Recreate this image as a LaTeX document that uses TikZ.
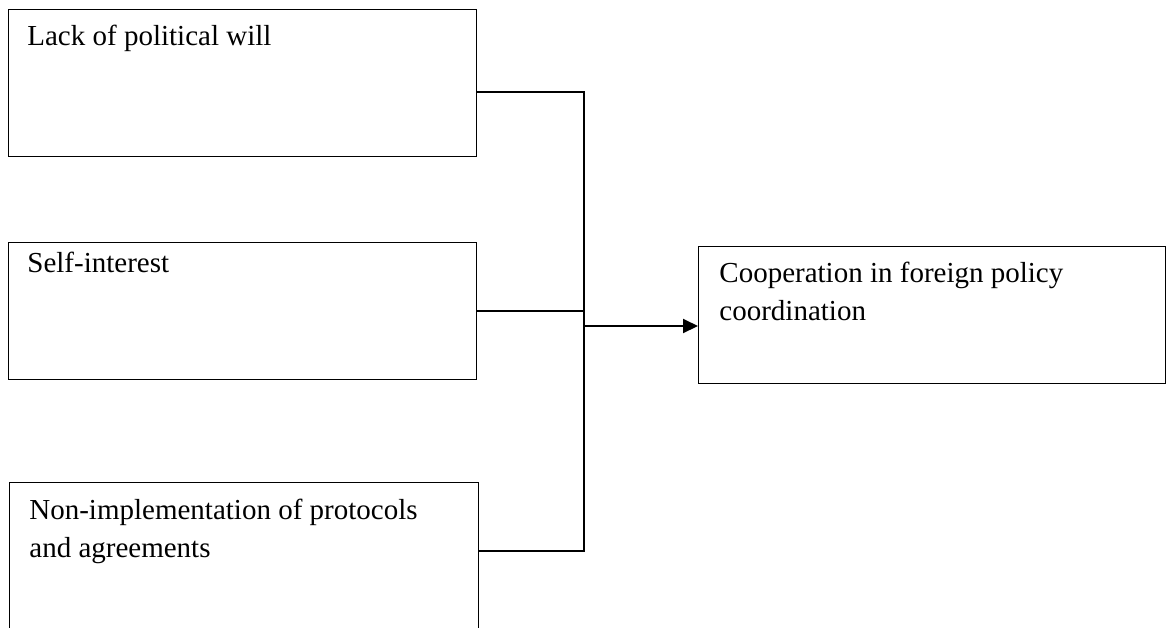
\documentclass[tikz,border=0pt]{standalone}
\usepackage{fontspec}
\setmainfont{Liberation Serif}
\usetikzlibrary{arrows.meta}

\tikzset{
  factor/.style={draw, line width=0.7pt, anchor=north west, inner sep=0pt},
  txt/.style={anchor=base west, inner sep=0pt, align=left, font=\fontsize{14.5}{18.75}\selectfont},
  link/.style={line width=1pt}
}

\begin{document}
\begin{tikzpicture}[x=0.5pt,y=-0.5pt]
\useasboundingbox (0,0) rectangle (1167,627);
\clip (0,0) rectangle (1167,627);

\node[factor, minimum width=233.75pt, minimum height=73.25pt] (lack) at (8,9) {};
\node[txt] (lacktxt) at (27,45) {Lack of political will};

\node[factor, minimum width=233.75pt, minimum height=68.5pt] (self) at (8,242) {};
\node[txt] (selftxt) at (27,272) {Self-interest};

\node[factor, minimum width=234.5pt, minimum height=90pt] (nonimp) at (9,482) {};
% base of a two-line node is its last line
\node[txt] (nonimptxt) at (29,557) {Non-implementation of protocols\\and agreements};

\node[factor, minimum width=233.5pt, minimum height=68.5pt] (coop) at (698,246) {};
\node[txt] (cooptxt) at (719,320) {Cooperation in foreign policy\\coordination};

\coordinate (top) at (584,92);
\coordinate (bot) at (584,551);
\coordinate (mid) at (584,326);

\draw[link] (lack.east |- top) -- (top) -- (bot) -- (nonimp.east |- bot);
\draw[link] (self.east) -- (self.east -| top);
\draw[link, -{Triangle[length=7.5pt,width=7pt]}] (mid) -- (mid -| coop.west);

\end{tikzpicture}
\end{document}
